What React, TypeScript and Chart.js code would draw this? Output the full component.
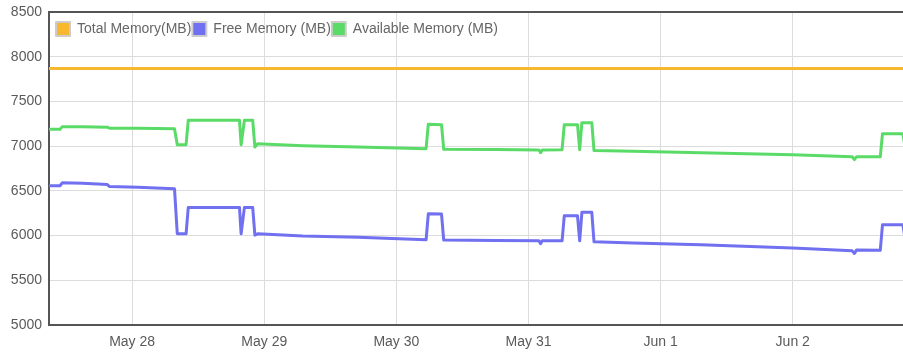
import React, { useEffect, useRef } from 'react';
import { Chart, registerables } from 'chart.js';

Chart.register(...registerables);

// time in hours since May 27 00:00
const hours = [
  8.9, 10.9, 11.3, 15.0, 19.5, 19.9, 25.0, 31.7, 32.2, 33.8, 34.2, 43.5, 43.8, 44.4, 45.9,
  46.3, 46.8, 55.0, 65.0, 77.4, 77.8, 80.2, 80.6, 90.0, 97.9, 98.2, 98.5, 102.1, 102.5,
  104.9, 105.3, 105.7, 107.5, 107.9, 115.0, 127.3, 144.0, 154.8, 155.2, 155.6, 159.9,
  160.3, 164.0, 164.5,
];

const availableMemory = [
  7188, 7188, 7218, 7216, 7212, 7200, 7200, 7195, 7016, 7016, 7290, 7290, 7016, 7290, 7290,
  6990, 7027, 7005, 6990, 6971, 7245, 7240, 6965, 6962, 6958, 6926, 6958, 6960, 7240,
  7240, 6960, 7262, 7262, 6950, 6942, 6926, 6904, 6882, 6850, 6882, 6880,
  7139, 7139, 6950,
];

const freeMemory = [
  6557, 6557, 6590, 6585, 6570, 6548, 6540, 6523, 6020, 6020, 6315, 6315, 6020, 6315, 6315,
  6005, 6019, 5995, 5980, 5952, 6243, 6240, 5950, 5945, 5941, 5910, 5941, 5941, 6221,
  6221, 5941, 6260, 6260, 5930, 5918, 5896, 5862, 5829, 5800, 5840, 5835,
  6120, 6120, 5930,
];

const totalHours = [8.9, 165.3];
const totalMemory = [7867, 7867];

const tickHours = [24, 48, 72, 96, 120, 144];
const tickLabels = ['May 28', 'May 29', 'May 30', 'May 31', 'Jun 1', 'Jun 2'];

const X_MIN = 8.9;
const X_MAX = 165.3;
const Y_MIN = 5000;
const Y_MAX = 8500;
const Y_STEP = 500;

const FONT = '"Liberation Sans", Arial, sans-serif';

const legendInside = {
  id: 'legendInside',
  beforeLayout(chart: any) {
    const lg = chart.legend;
    if (lg && !lg.__patched) {
      const fit = lg.fit;
      lg.fit = function () {
        fit.call(this);
        this.__h = this.height;
        this.height = 0;
      };
      lg.__patched = true;
    }
  },
  afterLayout(chart: any) {
    const lg = chart.legend;
    const ca = chart.chartArea;
    if (!lg) return;
    lg.left = ca.left + 6;
    lg.right = ca.right;
    lg.width = lg.right - lg.left;
    lg.top = ca.top + 9;
    lg.height = lg.__h || 20;
    lg.bottom = lg.top + lg.height;
  },
};

export default function App() {
  const ref = useRef<HTMLCanvasElement>(null);

  useEffect(() => {
    if (!ref.current) return;
    const mk = (xs: number[], ys: number[]) => xs.map((x, i) => ({ x, y: ys[i] }));
    const line = {
      borderWidth: 3,
      pointRadius: 0,
      tension: 0,
      borderJoinStyle: 'round',
      borderCapStyle: 'round',
    };
    const chart = new Chart(ref.current, {
      type: 'line',
      data: {
        datasets: [
          {
            label: 'Total Memory(MB)',
            data: mk(totalHours, totalMemory),
            borderColor: '#F8B72C',
            backgroundColor: '#F8B72C',
            ...line,
          },
          {
            label: 'Free Memory (MB)',
            data: mk(hours, freeMemory),
            borderColor: '#7070F0',
            backgroundColor: '#7070F0',
            ...line,
          },
          {
            label: 'Available Memory (MB)',
            data: mk(hours, availableMemory),
            borderColor: '#5ADB68',
            backgroundColor: '#5ADB68',
            ...line,
          },
        ],
      },
      options: {
        responsive: false,
        animation: false,
        devicePixelRatio: 1,
        layout: { padding: { left: 9, top: 12, right: 0, bottom: 0 } },
        plugins: {
          tooltip: { enabled: false },
          legend: {
            position: 'top',
            align: 'start',
            labels: {
              boxWidth: 14,
              boxHeight: 14,
              padding: 1,
              color: '#666',
              font: { size: 14, family: FONT },
              generateLabels(c: any) {
                const items = (Chart.defaults.plugins.legend.labels as any).generateLabels(c);
                return items.map((it: any) => ({ ...it, strokeStyle: '#cccccc', lineWidth: 2 }));
              },
            },
          },
        },
        scales: {
          x: {
            type: 'linear',
            min: X_MIN,
            max: X_MAX,
            afterBuildTicks: (s: any) => {
              s.ticks = tickHours.map((v) => ({ value: v }));
            },
            afterFit: (s: any) => {
              s.height = 29;
            },
            ticks: {
              autoSkip: false,
              maxRotation: 0,
              padding: 9,
              color: '#5a5a5a',
              font: { size: 14, family: FONT },
              callback: (v: any) => {
                const i = tickHours.indexOf(Number(v));
                return i >= 0 ? tickLabels[i] : '';
              },
            },
            grid: { color: '#dcdcdc', lineWidth: 1, drawTicks: false },
            border: { display: true, color: '#555', width: 2 },
          },
          xTop: {
            type: 'linear',
            position: 'top',
            min: X_MIN,
            max: X_MAX,
            ticks: { display: false },
            grid: { display: false, drawTicks: false },
            border: { display: true, color: '#555', width: 2 },
          },
          y: {
            type: 'linear',
            min: Y_MIN,
            max: Y_MAX,
            afterFit: (s: any) => {
              s.width = 40;
              s.paddingTop = 4;
              s.paddingBottom = 4;
            },
            ticks: {
              stepSize: Y_STEP,
              padding: 7,
              color: '#5a5a5a',
              font: { size: 14, family: FONT },
              callback: (v: any) => String(v),
            },
            grid: { color: '#dcdcdc', lineWidth: 1, drawTicks: false },
            border: { display: true, color: '#555', width: 2 },
          },
        },
      } as any,
      plugins: [legendInside as any],
    });
    return () => chart.destroy();
  }, []);

  return (
    <div style={{ position: 'fixed', left: 0, top: 0, width: 903, height: 354, overflow: 'hidden', background: '#fff' }}>
      <canvas ref={ref} width={910} height={354} />
    </div>
  );
}
